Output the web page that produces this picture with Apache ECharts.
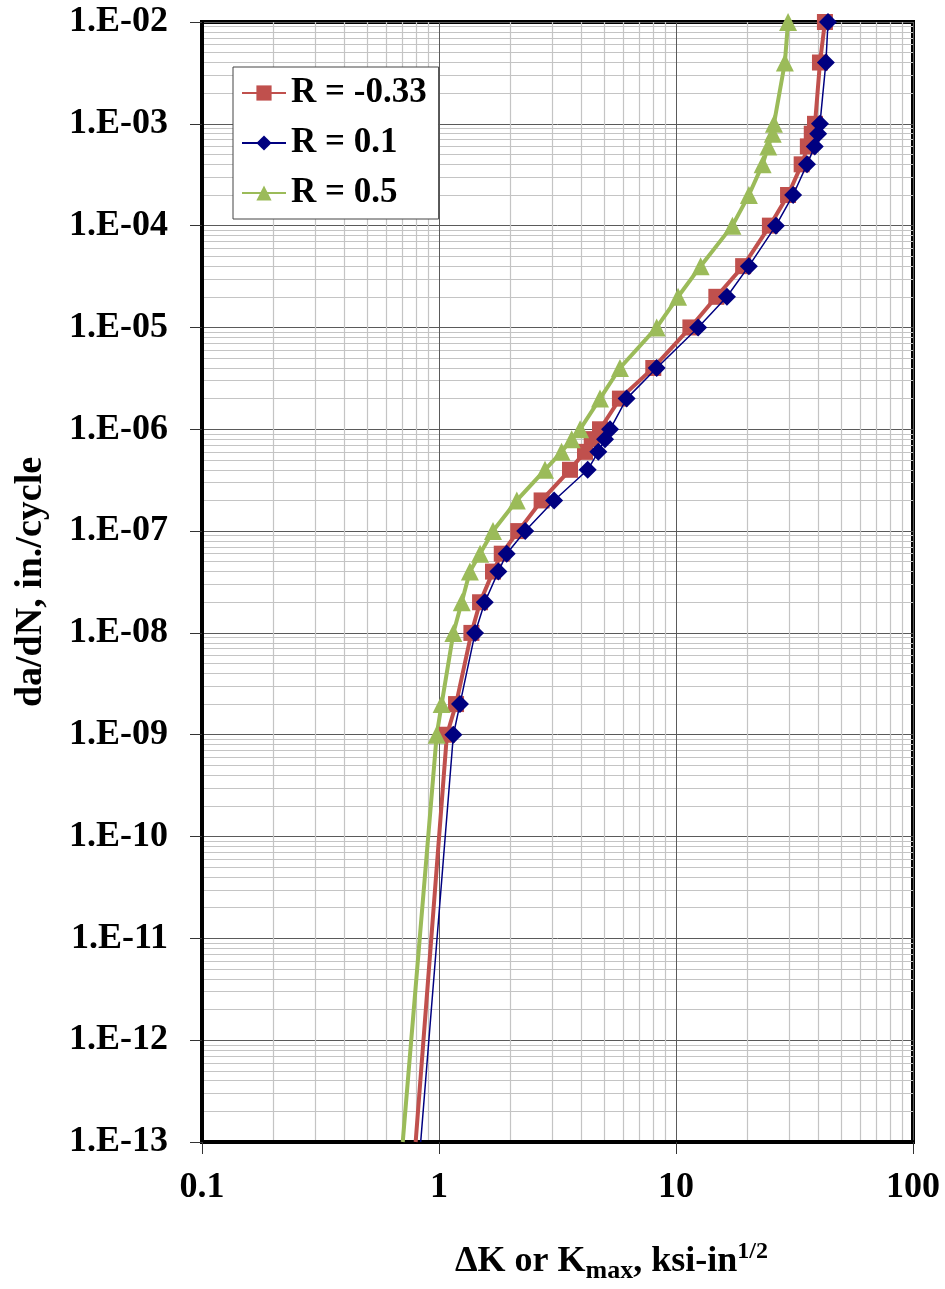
<!DOCTYPE html>
<html>
<head>
<meta charset="utf-8">
<title>da/dN vs K</title>
<script src="https://cdn.jsdelivr.net/npm/echarts@6/dist/echarts.min.js"></script>
<style>
  html, body { margin: 0; padding: 0; background: #fff; }
  #main { width: 945px; height: 1289px; }
</style>
</head>
<body>
<div id="main"></div>
<script>
// crack growth rate levels, shared by all three curves
const dadn = [1e-2, 4e-3, 1e-3, 8e-4, 6e-4, 4e-4, 2e-4, 1e-4, 4e-5, 2e-5, 1e-5,
  4e-6, 2e-6, 1e-6, 8e-7, 6e-7, 4e-7, 2e-7, 1e-7, 6e-8, 4e-8, 2e-8, 1e-8,
  2e-9, 1e-9, 1e-13];

// ΔK / Kmax for each R ratio
const kRneg033 = [42.5, 40.5, 38.6, 37.4, 36.0, 33.9, 29.7, 24.9, 19.2, 14.8, 11.5,
  8.02, 5.8, 4.78, 4.41, 4.13, 3.57, 2.71, 2.16, 1.84, 1.69, 1.49, 1.37,
  1.18, 1.08, 0.797];
const kR01 = [43.8, 42.9, 40.5, 39.8, 38.5, 35.7, 31.2, 26.4, 20.3, 16.4, 12.4,
  8.29, 6.19, 5.27, 5.02, 4.70, 4.24, 3.06, 2.31, 1.93, 1.78, 1.56, 1.42,
  1.226, 1.15, 0.837];
const kR05 = [29.7, 28.8, 25.9, 25.6, 24.5, 23.2, 20.3, 17.3, 12.7, 10.2, 8.29,
  5.8, 4.78, 3.94, 3.63, 3.29, 2.80, 2.13, 1.69, 1.49, 1.35, 1.247, 1.15,
  1.026, 0.978, 0.703];

const seriesNames = ['R = -0.33', 'R = 0.1', 'R = 0.5'];

const FONT = '"Liberation Serif", "Times New Roman", serif';

function pairs(kList) {
  return kList.map((k, i) => {
    // last point is the extrapolated tail, no marker
    if (i === kList.length - 1) return { value: [k, dadn[i]], symbol: 'none' };
    return [k, dadn[i]];
  });
}

const axisCommon = {
  type: 'log',
  logBase: 10,
  interval: 1,
  axisLine: { show: true, onZero: false, lineStyle: { color: '#000', width: 4 } },
  axisTick: { show: true, length: 12, lineStyle: { color: '#333', width: 1 } },
  splitLine: { show: true, lineStyle: { color: '#5a5a5a', width: 1 } },
  // v6 log axis splits each decade linearly -> 2..9
  minorTick: { show: false, splitNumber: 9 },
  minorSplitLine: { show: true, lineStyle: { color: '#c4c4c4', width: 1.2 } }
};

const chart = echarts.init(document.getElementById('main'), null, { renderer: 'canvas' });

const option = {
  animation: false,
  backgroundColor: '#fff',
  grid: {
    left: 202, top: 22, right: 32, bottom: 146,
    show: true, borderColor: '#000', borderWidth: 4, backgroundColor: 'transparent'
  },
  legend: {
    left: 233, top: 67,
    orient: 'vertical',
    data: seriesNames,
    backgroundColor: '#fff',
    borderColor: '#444',
    borderWidth: 1,
    padding: [6, 12, 6, 8],
    itemWidth: 44,
    itemHeight: 19,
    itemGap: 10,
    textStyle: { fontFamily: FONT, fontWeight: 'bold', fontSize: 35, color: '#000', lineHeight: 40 }
  },
  xAxis: Object.assign({}, axisCommon, {
    min: 0.1,
    max: 100,
    name: '{a|ΔK or K}{sub|max}{a|, ksi-in}{sup|1/2}',
    nameLocation: 'middle',
    nameGap: 98,
    nameTextStyle: {
      padding: [0, 0, 0, 108],
      rich: {
        a: { fontFamily: FONT, fontWeight: 'bold', fontSize: 36, color: '#000', lineHeight: 44 },
        sub: { fontFamily: FONT, fontWeight: 'bold', fontSize: 26, color: '#000', lineHeight: 26, verticalAlign: 'bottom' },
        sup: { fontFamily: FONT, fontWeight: 'bold', fontSize: 24, color: '#000', lineHeight: 24, verticalAlign: 'top' }
      }
    },
    axisLabel: {
      margin: 28,
      fontFamily: FONT, fontWeight: 'bold', fontSize: 36, color: '#000',
      formatter: v => String(+v.toPrecision(3))
    }
  }),
  yAxis: Object.assign({}, axisCommon, {
    min: 1e-13,
    max: 1e-2,
    name: 'da/dN, in./cycle',
    nameLocation: 'middle',
    nameGap: 152,
    nameRotate: 90,
    nameTextStyle: { fontFamily: FONT, fontWeight: 'bold', fontSize: 38, color: '#000' },
    axisLabel: {
      margin: 34,
      fontFamily: FONT, fontWeight: 'bold', fontSize: 36, color: '#000',
      formatter: v => '1.E-' + String(-Math.round(Math.log10(v))).padStart(2, '0')
    }
  }),
  series: [
    {
      name: seriesNames[0],
      type: 'line',
      z: 3,
      data: pairs(kRneg033),
      symbol: 'rect',
      symbolSize: 16,
      color: '#C0504D',
      lineStyle: { width: 4, color: '#C0504D' },
      itemStyle: { color: '#C0504D' }
    },
    {
      name: seriesNames[1],
      type: 'line',
      z: 4,
      data: pairs(kR01),
      symbol: 'diamond',
      symbolSize: 18,
      color: '#000080',
      lineStyle: { width: 1.5, color: '#000080' },
      itemStyle: { color: '#000080' }
    },
    {
      name: seriesNames[2],
      type: 'line',
      z: 3,
      data: pairs(kR05),
      symbol: 'triangle',
      symbolSize: 18,
      color: '#9BBB59',
      lineStyle: { width: 4, color: '#9BBB59' },
      itemStyle: { color: '#9BBB59' }
    }
  ]
};

chart.setOption(option);
</script>
</body>
</html>
